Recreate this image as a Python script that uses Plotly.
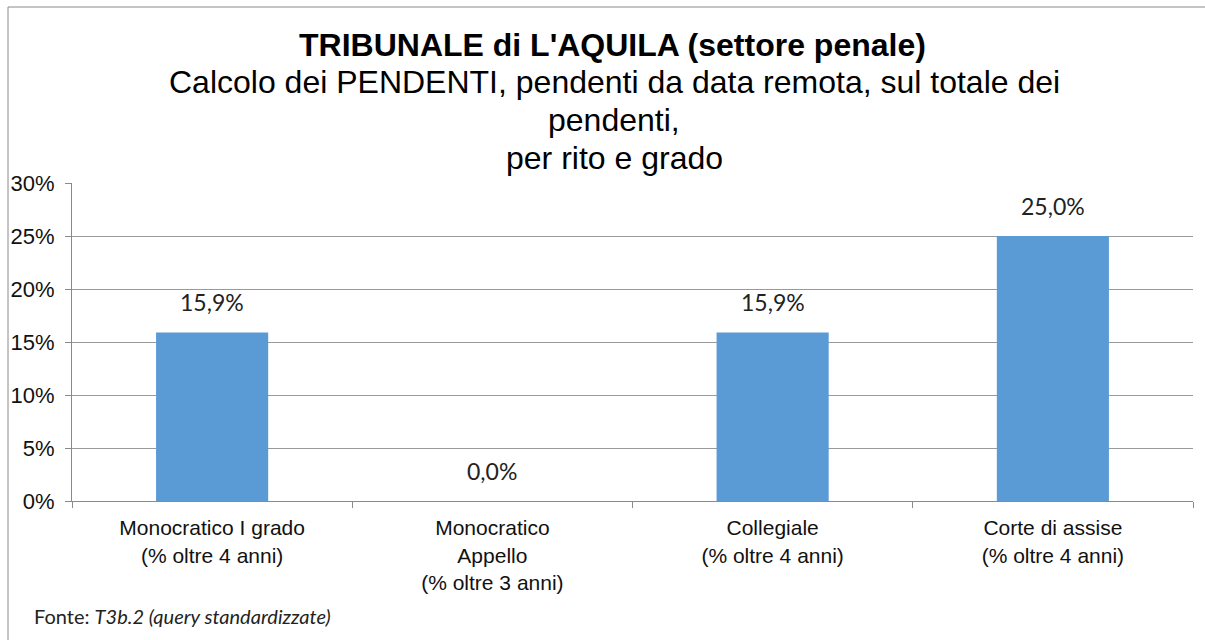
import plotly.graph_objects as go

categories = [
    "Monocratico I grado<br>(% oltre 4 anni)",
    "Monocratico<br>Appello<br>(% oltre 3 anni)",
    "Collegiale<br>(% oltre 4 anni)",
    "Corte di assise<br>(% oltre 4 anni)",
]
values = [0.159, 0.0, 0.159, 0.25]
value_labels = ["15,9%", "0,0%", "15,9%", "25,0%"]
y_ticks = [0, 0.05, 0.10, 0.15, 0.20, 0.25, 0.30]
y_tick_labels = ["0%", "5%", "10%", "15%", "20%", "25%", "30%"]

W, H = 1205, 640
L, R, T, B = 72, 12, 183, 139
pw, ph = W - L - R, H - T - B


def px_x(x):
    return (x - L) / pw


def px_y(y):
    return (H - B - y) / ph


fig = go.Figure(
    go.Bar(
        x=categories,
        y=values,
        width=0.4,
        marker=dict(color="#5B9BD5", line=dict(width=0)),
        hoverinfo="skip",
    )
)

# value labels sit well above the bars, Excel style
for c, v, lab in zip(categories, values, value_labels):
    fig.add_annotation(
        x=c, y=v, text=lab, showarrow=False, yanchor="middle", yshift=30,
        font=dict(family="Lato, Liberation Sans, sans-serif", size=23, color="#222"),
    )

fig.update_layout(
    width=W,
    height=H,
    margin=dict(l=L, r=R, t=T, b=B),
    plot_bgcolor="white",
    paper_bgcolor="white",
    showlegend=False,
    font=dict(family="Liberation Sans, Arial, sans-serif", color="#111"),
    bargap=0.6,
)

fig.update_yaxes(
    range=[0, 0.30],
    tickvals=y_ticks,
    ticktext=y_tick_labels,
    tickfont=dict(size=22, color="#111"),
    showgrid=True,
    gridcolor="#9a9a9a",
    gridwidth=1,
    showline=True,
    linecolor="#8a8a8a",
    ticks="outside",
    ticklen=6,
    tickcolor="#8a8a8a",
    zeroline=False,
    ticklabelstandoff=6,
)
fig.update_xaxes(
    tickson="boundaries",
    ticks="outside",
    ticklen=6,
    tickcolor="#8a8a8a",
    showline=True,
    linecolor="#8a8a8a",
    tickfont=dict(size=21, color="#111"),
    showgrid=False,
    ticklabelstandoff=8,
)

# title block
fig.add_annotation(
    text="<b>TRIBUNALE di L'AQUILA (settore penale)</b>",
    xref="paper", yref="paper", x=px_x(612), y=px_y(45),
    showarrow=False, font=dict(size=32, color="#000"), yanchor="middle",
)
for txt, yy in [
    ("Calcolo dei PENDENTI, pendenti da data remota, sul totale dei", 82),
    ("pendenti,", 120),
    ("per rito e grado", 158),
]:
    fig.add_annotation(
        text=txt, xref="paper", yref="paper", x=px_x(614), y=px_y(yy),
        showarrow=False, font=dict(size=32, color="#000"), yanchor="middle",
    )

fig.add_annotation(
    text="Fonte: <i>T3b.2 (query standardizzate)</i>",
    xref="paper", yref="paper", x=px_x(32), y=px_y(616),
    xanchor="left", yanchor="middle", showarrow=False,
    font=dict(family="Lato, sans-serif", size=20, color="#222"),
)

# chart frame (top and left edges visible)
fig.add_shape(
    type="rect", xref="paper", yref="paper",
    x0=px_x(8), x1=px_x(1225), y0=px_y(660), y1=px_y(7),
    line=dict(color="#8a8a8a", width=1), fillcolor="rgba(0,0,0,0)", layer="below",
)

fig.write_html(
    "out.html",
    config={"displayModeBar": False},
    post_script="document.body.style.margin='0';",
)
